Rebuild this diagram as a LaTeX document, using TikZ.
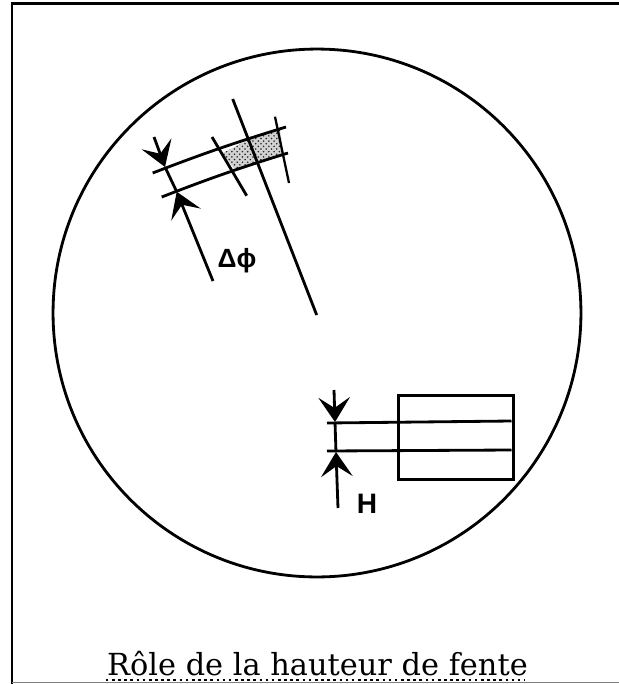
\documentclass[tikz,border=0pt]{standalone}
\usepackage{fontspec}
\setmainfont{DejaVu Serif}
\newfontfamily\labelfont{Liberation Sans}
\usetikzlibrary{arrows.meta,patterns}
\begin{document}
\begin{tikzpicture}[x=0.02cm, y=-0.02cm, line width=1.6pt, >={Stealth[length=14pt, width=18pt, inset=6pt]},
    every node/.style={inner sep=0pt},
    thinline/.style={line width=1.3pt}]
    \useasboundingbox (0, 0) rectangle (619, 684);
    \coordinate (f1) at (12, 684);
    \coordinate (f2) at (12, 3.5);
    \coordinate (f3) at (619, 3.5);
    \coordinate (f4) at (12, 682.5);
    \coordinate (f5) at (619, 682.5);
    \draw (f1) -- (f2) -- (f3);
    \draw[gray, line width=1pt] (f4) -- (f5);
    \node[draw, circle, minimum size=10.56cm] (disc) at (317, 313) {};
    \coordinate (s1) at (222.7, 153);
    \coordinate (s2) at (248, 140);
    \coordinate (s3) at (280, 129);
    \coordinate (s4) at (283, 153);
    \coordinate (s5) at (258, 163);
    \coordinate (s6) at (235, 170);
    \fill[gray!35] (s1) -- (s2) -- (s3) -- (s4) -- (s5) -- (s6) -- cycle;
    \fill[pattern=crosshatch dots, pattern color=black!85] (s1) -- (s2) -- (s3) -- (s4) -- (s5) -- (s6) -- cycle;
    \coordinate (r1) at (232.7, 99);
    \coordinate (r2) at (316.7, 315);
    \coordinate (d1) at (154, 137);
    \coordinate (d2) at (165, 167);
    \coordinate (d3) at (176.7, 191.7);
    \coordinate (d4) at (213, 281);
    \coordinate (a1) at (152.7, 173);
    \coordinate (a2) at (286, 127);
    \coordinate (b1) at (161.7, 197);
    \coordinate (b2) at (288, 153);
    \coordinate (c1) at (212, 137);
    \coordinate (c2) at (246.7, 195.7);
    \coordinate (e1) at (275, 116.7);
    \coordinate (e2) at (289, 183);
    \draw (r1) -- (r2);
    \draw (d2) -- (d3);
    \draw[->] (d1) -- (d2);
    \draw[->] (d4) -- (d3);
    \draw (a1) to[bend left=2] (a2);
    \draw (b1) to[bend left=2] (b2);
    \draw (c1) -- (c2);
    \draw[thinline] (e1) -- (e2);
    \node[draw, minimum width=2.3cm, minimum height=1.68cm, anchor=north west] (slit) at (397, 394) {};
    \coordinate (h1) at (327, 423);
    \coordinate (h2) at (511.5, 421);
    \coordinate (k1) at (327, 451);
    \coordinate (k2) at (511.5, 450);
    \coordinate (v1) at (334, 390);
    \coordinate (v2) at (335, 422);
    \coordinate (v3) at (336, 452);
    \coordinate (v4) at (338, 508);
    \draw (h1) -- (h2);
    \draw (k1) -- (k2);
    \draw (v2) -- (v3);
    \draw[->] (v1) -- (v2);
    \draw[->] (v4) -- (v3);
    \node[font=\labelfont\bfseries\fontsize{15}{15}\selectfont] (dphi) at (237, 261) {Δϕ};
    \node[font=\labelfont\bfseries\fontsize{16}{16}\selectfont] (hgt) at (367, 504) {H};
    \node[anchor=base, font=\fontsize{17.3}{20}\selectfont] (title) at (317.5, 675) {Rôle de la hauteur de fente};
    \draw[dotted, line width=1.5pt] (title.base west) ++(0, 5) -- ++(419, 0);
\end{tikzpicture}
\end{document}
